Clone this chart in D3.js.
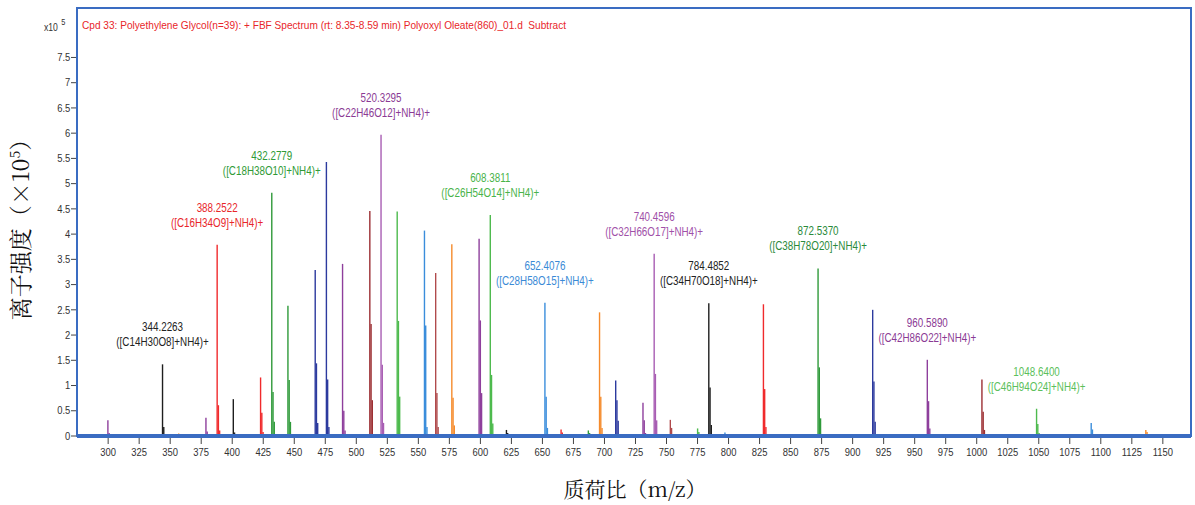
<!DOCTYPE html>
<html>
<head>
<meta charset="utf-8">
<script src="https://cdn.jsdelivr.net/npm/d3@7"></script>
<style>
  html, body { margin: 0; padding: 0; background: #fff; }
  svg { display: block; }
  text { font-family: "Liberation Sans", Arial, sans-serif; }
  .cjk { font-family: "Noto Serif CJK SC", "Noto Sans CJK SC", serif; }
  .header { white-space: pre; }
</style>
</head>
<body>
<svg id="chart" width="1195" height="505"></svg>
<script>
// Monoisotopic peak positions (m/z) and intensities (x10^5 counts)
const peakMz = [300.20, 344.2263, 357.25, 379.22, 388.2522, 401.27, 423.25, 432.2779, 445.30,
  467.28, 476.30, 489.32, 511.30, 520.3295, 533.35, 555.33, 564.36, 577.38, 599.36, 608.3811,
  621.40, 652.4076, 665.43, 687.41, 696.43, 709.45, 731.44, 740.4596, 753.48, 775.46, 784.4852,
  797.50, 819.49, 828.51, 841.53, 863.51, 872.5370, 885.56, 916.56, 960.5890, 1004.61, 1048.6400,
  1092.67, 1136.69];
const peakIntensity = [0.30, 1.41, 0.04, 0.35, 3.78, 0.72, 1.15, 4.81, 2.57,
  3.28, 5.42, 3.40, 4.45, 5.96, 4.44, 4.06, 3.22, 3.79, 3.90, 4.37,
  0.11, 2.63, 0.12, 0.10, 2.44, 1.09, 0.65, 3.60, 0.31, 0.14, 2.62,
  0.06, 0.03, 2.60, 0.03, 0.02, 3.31, 0.03, 2.49, 1.50, 1.11, 0.53,
  0.25, 0.11];
// First and second isotope intensities (x10^5)
const iso1Intensity = [0.05, 0.17, 0.02, 0.08, 0.60, 0.06, 0.45, 0.86, 1.10,
  1.43, 1.11, 0.49, 2.21, 1.40, 2.27, 2.18, 0.84, 0.75, 2.28, 1.20,
  0.05, 0.77, 0.06, 0.05, 0.77, 0.70, 0.30, 1.22, 0.15, 0.07, 0.95,
  0.03, 0.02, 0.92, 0.02, 0.01, 1.35, 0.02, 1.07, 0.68, 0.47, 0.23,
  0.12, 0.07];
const iso2Intensity = [0, 0.03, 0, 0.02, 0.10, 0.02, 0.07, 0.27, 0.27,
  0.25, 0.17, 0.10, 0.70, 0.25, 0.77, 0.17, 0.17, 0.20, 0.84, 0.24,
  0, 0.15, 0, 0, 0.15, 0.29, 0.05, 0.30, 0.03, 0.02, 0.21,
  0, 0, 0.17, 0, 0, 0.34, 0, 0.27, 0.14, 0.11, 0.05,
  0.03, 0.02];

// Annotated ions
const labelMz = [344.2263, 388.2522, 432.2779, 520.3295, 608.3811, 652.4076, 740.4596,
  784.4852, 872.5370, 960.5890, 1048.6400];
const labelFormula = ["C14H30O8", "C16H34O9", "C18H38O10", "C22H46O12", "C26H54O14",
  "C28H58O15", "C32H66O17", "C34H70O18", "C38H78O20", "C42H86O22", "C46H94O24"];

const xTicks = d3.range(300, 1151, 25);
const yTicks = d3.range(0, 7.51, 0.5);

const headerText = "Cpd 33: Polyethylene Glycol(n=39): + FBF Spectrum (rt: 8.35-8.59 min) Polyoxyl Oleate(860)_01.d  Subtract";

// Styling
const palette = {
  black: "#1e1e1e", red: "#f02a2c", green: "#2f9a3a", lgreen: "#4dba4d", navy: "#2c3a9e",
  purple: "#8e3f9c", lpurple: "#a85db3", maroon: "#9c2f33", brown: "#b04a4c",
  blue: "#3a8ddb", orange: "#f58b2c"
};
const peakColor = ["purple", "black", "orange", "purple", "red", "black", "red", "green", "green",
  "navy", "navy", "purple", "maroon", "lpurple", "lgreen", "blue", "brown", "orange", "purple", "lgreen",
  "black", "blue", "red", "green", "orange", "navy", "purple", "lpurple", "brown", "lgreen", "black",
  "blue", "orange", "red", "purple", "black", "green", "red", "navy", "purple", "maroon", "lgreen",
  "blue", "orange"];
const labelColor = ["#222222", "#e8262a", "#2f9a36", "#8b3a94", "#49b34a", "#3a8ad6", "#a050a8",
  "#222222", "#2a8a3a", "#8b3a94", "#5cbf5c"];

const svg = d3.select("#chart");
const frame = { left: 77, right: 1191, top: 8, bottom: 436 };

const x = d3.scaleLinear().domain([275.3, 1173.1]).range([frame.left, frame.right]);
const y = d3.scaleLinear().domain([0, 8.47]).range([435.5, frame.top]);

const squeeze = 0.82;

// Plot frame
svg.append("rect")
  .attr("x", frame.left).attr("y", frame.top)
  .attr("width", frame.right - frame.left).attr("height", frame.bottom - frame.top)
  .attr("fill", "none").attr("stroke", "#3a6cc2").attr("stroke-width", 2);

// Peaks: monoisotopic line plus two isotope lines
const peaks = peakMz.map((mz, i) => ({
  mz, color: palette[peakColor[i]],
  lines: [[mz, peakIntensity[i]], [mz + 1.003, iso1Intensity[i]], [mz + 2.007, iso2Intensity[i]]]
}));

const gPeaks = svg.append("g");
peaks.forEach(p => {
  gPeaks.selectAll(null)
    .data(p.lines.filter(d => d[1] > 0))
    .join("line")
    .attr("x1", d => x(d[0])).attr("x2", d => x(d[0]))
    .attr("y1", y(0)).attr("y2", d => y(d[1]))
    .attr("stroke", p.color).attr("stroke-width", 1.4);
});

// Bottom axis
const xAxis = svg.append("g")
  .attr("transform", `translate(0,${frame.bottom + 2})`)
  .call(d3.axisBottom(x).tickValues(xTicks).tickSize(6).tickPadding(4).tickFormat(d3.format("d")));
xAxis.select(".domain").remove();
xAxis.selectAll("line").attr("stroke", "#444");
xAxis.selectAll("text").attr("font-size", 11.5).attr("fill", "#333")
  .attr("font-family", "Liberation Sans, Arial, sans-serif")
  .attr("transform", `scale(${squeeze},1)`);

// Thick baseline
svg.append("line")
  .attr("x1", frame.left).attr("x2", frame.right)
  .attr("y1", frame.bottom).attr("y2", frame.bottom)
  .attr("stroke", "#3a6cc2").attr("stroke-width", 4);

// Left axis
const yAxis = svg.append("g")
  .attr("transform", `translate(${frame.left - 1},0)`)
  .call(d3.axisLeft(y).tickValues(yTicks).tickSize(5).tickPadding(2).tickFormat(d3.format("~g")));
yAxis.select(".domain").remove();
yAxis.selectAll("line").attr("stroke", "#444");
yAxis.selectAll("text").attr("font-size", 11.5).attr("fill", "#333")
  .attr("font-family", "Liberation Sans, Arial, sans-serif")
  .attr("transform", `scale(${squeeze},1)`);

// Exponent marker
const expo = svg.append("text").attr("x", 44).attr("y", 31).attr("font-size", 10.5).attr("fill", "#333")
  .attr("transform", `translate(${44 * (1 - squeeze)},0) scale(${squeeze},1)`);
expo.append("tspan").text("x10");
expo.append("tspan").attr("dx", 4).attr("dy", -6).attr("font-size", 9).text("5");

// Header
svg.append("text").attr("class", "header")
  .attr("x", 82).attr("y", 29)
  .attr("font-size", 10.5).attr("fill", "#e8262a")
  .attr("textLength", 484).attr("lengthAdjust", "spacingAndGlyphs")
  .text(headerText);

// Ion annotations
const gLab = svg.append("g");
labelMz.forEach((mz, i) => {
  const idx = peakMz.indexOf(mz);
  const px = x(mz), top = y(peakIntensity[idx]);
  const g = gLab.append("g")
    .attr("transform", `translate(${px},${top}) scale(${squeeze},1)`)
    .attr("fill", labelColor[i]).attr("font-size", 12).attr("text-anchor", "middle");
  g.append("text").attr("y", -33).text(mz.toFixed(4));
  g.append("text").attr("y", -18).text(`([${labelFormula[i]}]+NH4)+`);
});

// Axis titles
svg.append("text").attr("class", "cjk")
  .attr("x", 635).attr("y", 497).attr("text-anchor", "middle")
  .attr("font-size", 21).attr("fill", "#111")
  .text("质荷比（m/z）");

const yt = svg.append("text").attr("class", "cjk")
  .attr("transform", "translate(29,224) rotate(-90)")
  .attr("text-anchor", "middle").attr("font-size", 23).attr("fill", "#111");
yt.append("tspan").text("离子强度（×10");
yt.append("tspan").attr("dy", -9).attr("font-size", 14).text("5");
yt.append("tspan").attr("dy", 9).text("）");
</script>
</body>
</html>
